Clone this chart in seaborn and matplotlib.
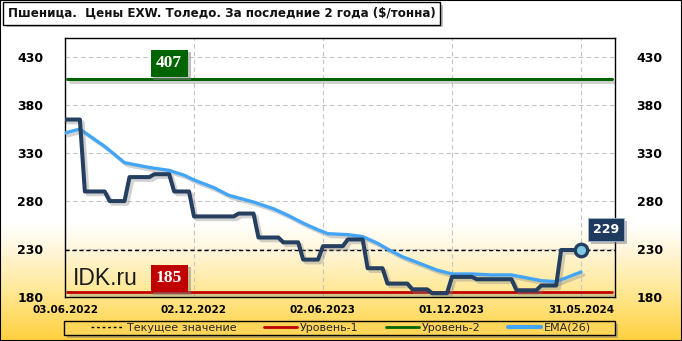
import numpy as np
import pandas as pd
import matplotlib
matplotlib.use("Agg")
import matplotlib.pyplot as plt
import matplotlib.dates as mdates
import matplotlib.patheffects as pe
from matplotlib.lines import Line2D
from matplotlib.patches import Rectangle
import seaborn as sns

# ---------------- data ----------------
title = "Пшеница.  Цены EXW. Толедо. За последние 2 года ($/тонна)"
start_date = "2022-06-03"
price = [365, 365, 365, 365,
         290, 290, 290, 290, 290,
         280, 280, 280, 280,
         305, 305, 305, 305, 305,
         308, 308, 308, 308,
         290, 290, 290, 290,
         264, 264, 264, 264, 264, 264, 264, 264, 264,
         267, 267, 267, 267,
         242, 242, 242, 242, 242,
         237, 237, 237, 237,
         219, 219, 219, 219,
         233, 233, 233, 233, 233,
         240, 240, 240, 240,
         210, 210, 210, 210,
         194, 194, 194, 194, 194,
         188, 188, 188, 188,
         184, 184, 184, 184,
         201, 201, 201, 201, 201,
         198.5, 198.5, 198.5, 198.5, 198.5, 198.5, 198.5, 198.5,
         187, 187, 187, 187, 187,
         192, 192, 192, 192,
         229, 229, 229, 229, 229]
ema_weeks = [0, 3, 8, 12, 17, 21, 24, 26, 30, 33, 38, 42, 45, 48, 51, 53, 57, 60,
             63, 65, 68, 72, 75, 78, 82, 86, 90, 93, 96, 99, 100, 102, 104]
ema_values = [351, 355, 337, 320, 315, 312, 307, 302, 294, 286, 279, 272, 265, 257,
              250, 246, 245, 243, 236, 230, 222, 214, 208, 204, 204, 203, 203, 200,
              197, 196, 198, 202, 206]
level1 = 185
level2 = 407
current = 229
y_ticks = [180, 230, 280, 330, 380, 430]
x_tick_labels = ["03.06.2022", "02.12.2022", "02.06.2023", "01.12.2023", "31.05.2024"]
legend_labels = ["Текущее значение", "Уровень-1", "Уровень-2", "EMA(26)"]

# ---------------- styling ----------------
NAVY = "#243F60"
EMA_C = "#42A5F5"
RED = "#C00000"
GREEN = "#006400"

sns.set_style("white")
plt.rcParams["font.family"] = ["DejaVu Sans"]

W, H = 682, 341
fig = plt.figure(figsize=(W / 100, H / 100), dpi=100)

def fx(x):
    return x / W

def fy(y):
    return 1 - y / H

# background gradient
bg = fig.add_axes([0, 0, 1, 1], zorder=-1)
rows = np.arange(H)
stops_y = [0, 222, 250, 290, 341]
r = np.interp(rows, stops_y, [255, 255, 255, 255, 255])
g = np.interp(rows, stops_y, [255, 255, 246, 232, 208])
b = np.interp(rows, stops_y, [255, 255, 218, 150, 60])
grad = np.stack([r, g, b], axis=1)[:, None, :] / 255.0
grad = np.repeat(grad, 2, axis=1)
bg.imshow(grad, aspect="auto", extent=[0, 1, 0, 1], origin="upper")
bg.set_axis_off()

ax = fig.add_axes([fx(65), fy(297), 550 / W, 259 / H], zorder=1)
ax.set_facecolor("none")

dates = pd.date_range(start_date, periods=len(price), freq="7D")
df = pd.DataFrame({"date": dates, "price": price})
ema_df = pd.DataFrame({"date": [dates[i] for i in ema_weeks], "ema": ema_values})

shadow = [pe.SimpleLineShadow(offset=(2, -2), shadow_color="gray", alpha=0.35), pe.Normal()]

# level lines
ax.axhline(level2, xmin=0.004, xmax=0.995, color=GREEN, lw=2.2, path_effects=shadow, zorder=3)
ax.axhline(level1, xmin=0.004, xmax=0.995, color=RED, lw=2.0, path_effects=shadow, zorder=3)
ax.axhline(current, color="black", lw=1.0, linestyle=(0, (3, 2)), zorder=3)

sns.lineplot(data=ema_df, x="date", y="ema", color=EMA_C, lw=2.4, ax=ax,
             path_effects=shadow, zorder=4)
sns.lineplot(data=df, x="date", y="price", color=NAVY, lw=2.9, ax=ax,
             path_effects=shadow, zorder=5, solid_joinstyle="round", solid_capstyle="round")
sns.scatterplot(x=[dates[-1]], y=[price[-1]], s=80, color="#7EC8E3", edgecolor=NAVY,
                linewidth=2.4, ax=ax, zorder=6)

ax.set_ylim(180, 450)
ax.set_xlim(dates[0], dates[0] + pd.Timedelta(days=776))
ax.set_yticks(y_ticks)
tick_dates = [dates[0], dates[26], dates[52], dates[78], dates[104]]
ax.set_xticks(tick_dates)
ax.set_xticklabels(x_tick_labels)
ax.set_xlabel("")
ax.set_ylabel("")
ax.grid(True, color="#C4C4C4", linestyle=(0, (4, 3)), lw=0.8)
ax.set_axisbelow(True)
for s in ax.spines.values():
    s.set_visible(True)
    s.set_color("black")
    s.set_linewidth(1.0)
ax.tick_params(axis="y", left=False, right=False, labelleft=True, labelright=True,
               pad=12, labelsize=9, colors="black")
ax.tick_params(axis="x", bottom=False, length=0, pad=6, labelsize=7.5, colors="black")
for t in ax.yaxis.get_major_ticks():
    t.label1.set_fontweight("bold")
    t.label2.set_fontweight("bold")
for t in ax.get_xticklabels():
    t.set_fontweight("bold")

box_shadow = [pe.SimplePatchShadow(offset=(2, -2), shadow_rgbFace="gray", alpha=0.5), pe.Normal()]

a1 = ax.annotate(str(level2), xy=(dates[21], level2), xytext=(0, 16), textcoords="offset pixels",
                 ha="center", va="center", color="white", fontsize=12.5, fontweight="bold",
                 family="Liberation Serif",
                 bbox=dict(boxstyle="square,pad=0.32", fc=GREEN, ec="none"), zorder=7)
a1.get_bbox_patch().set_path_effects(box_shadow)
a2 = ax.annotate(str(level1), xy=(dates[21], level1), xytext=(0, 14), textcoords="offset pixels",
                 ha="center", va="center", color="white", fontsize=12.5, fontweight="bold",
                 family="Liberation Serif",
                 bbox=dict(boxstyle="square,pad=0.32", fc=RED, ec="none"), zorder=7)
a2.get_bbox_patch().set_path_effects(box_shadow)
ax.annotate("IDK.ru", xy=(dates[0], level1), xytext=(8, 14), textcoords="offset pixels",
            ha="left", va="center", color="#1A1A1A", fontsize=16.5, family="Liberation Sans",
            zorder=7)
a3 = ax.annotate(str(current), xy=(dates[-1], price[-1]), xytext=(25, 20), textcoords="offset pixels",
                 ha="center", va="center", color="white", fontsize=9, fontweight="bold",
                 bbox=dict(boxstyle="square,pad=0.4", fc="#1F3A5F", ec="#9FB4CC", lw=0.6),
                 zorder=8, annotation_clip=False)
a3.get_bbox_patch().set_path_effects(box_shadow)

# title
tt = fig.text(fx(8), fy(13.5), title, ha="left", va="center", fontsize=8.6, fontweight="bold",
              color="#111111",
              bbox=dict(boxstyle="square,pad=0.38", fc="white", ec="black", lw=1))
tt.get_bbox_patch().set_path_effects(box_shadow)

# legend
frame = Rectangle((fx(64), fy(335)), 551 / W, 14 / H, transform=fig.transFigure,
                  fc="#FFD65A", ec="black", lw=1, zorder=2)
frame.set_path_effects(box_shadow)
fig.add_artist(frame)
handles = [Line2D([], [], color="black", lw=1, linestyle=(0, (2, 2))),
           Line2D([], [], color=RED, lw=2),
           Line2D([], [], color=GREEN, lw=2),
           Line2D([], [], color=EMA_C, lw=3)]
leg = fig.legend(handles, legend_labels, loc="center", bbox_to_anchor=(fx(341), fy(328)),
                 ncol=4, frameon=False, fontsize=8, handlelength=3, handletextpad=0.3,
                 columnspacing=2.4, borderpad=0.1)
leg.set_zorder(3)

# outer border
fig.add_artist(Rectangle((0, 0), 1, 1, transform=fig.transFigure, fc="none", ec="black",
                         lw=1.5, zorder=10))

fig.savefig("out.png", dpi=100)
